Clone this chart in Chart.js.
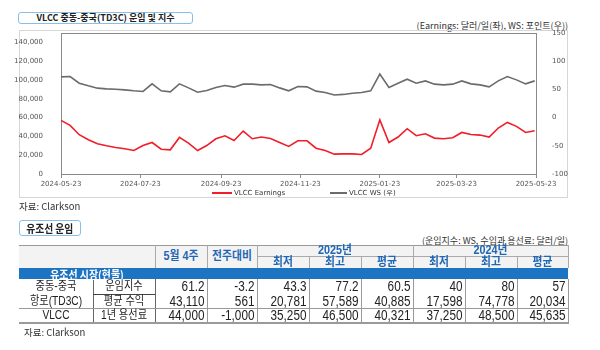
<!DOCTYPE html>
<html>
<head>
<meta charset="utf-8">
<script src="https://cdn.jsdelivr.net/npm/chart.js@4.4.1/dist/chart.umd.min.js"></script>
<style>
  html, body { margin:0; padding:0; background:#fff; }
  #root { position:relative; width:600px; height:350px; overflow:hidden; background:#fff;
          font-family:"Noto Sans CJK KR","Liberation Sans",sans-serif; color:#222; }
  .abs { position:absolute; white-space:nowrap; }
  .tbox { border:1px solid #86c0e8; border-radius:3px; background:#fff; box-sizing:border-box;
          text-align:center; font-weight:bold; color:#222; }
  #frame { left:19px; top:30px; width:549px; height:168px; border:1px solid #d6d6d6; box-sizing:border-box; }
  #c { position:absolute; left:0; top:0; }
  .unit { font-size:9px; color:#333; right:32px; }
  .src { font-size:9.5px; color:#333; }
  .lgline { position:absolute; }
  .lgtext { position:absolute; font-family:"DejaVu Sans",sans-serif; font-size:7px; line-height:8px; color:#333; white-space:nowrap; }
  .rect { position:absolute; }
  .cell { position:absolute; white-space:nowrap; overflow:visible; }
  .cell span { display:block; }
  .hdc { color:#1f66b5; font-weight:bold; font-size:12px; text-align:center;
         font-family:"Liberation Sans","Noto Sans CJK KR",sans-serif; }
  .hdc span { transform:scaleX(0.9); }
  .bandc { color:#fff; font-weight:bold; font-size:11px; text-align:center; }
  .bandc span { transform:scaleX(0.9); position:relative; top:1px; }
  .labc { font-size:12px; text-align:center; color:#222;
          font-family:"Liberation Sans","Noto Sans CJK KR",sans-serif; }
  .labc span { transform:scaleX(0.85); }
  .numc { font-size:14px; text-align:right; color:#222; font-family:"Liberation Sans",sans-serif; }
  .numc span { transform:scaleX(0.84); transform-origin:right center; padding-right:3px; }
</style>
</head>
<body>
<div id="root">
  <div class="abs tbox" style="left:18px;top:12px;width:175px;height:12px;line-height:10px;font-size:9px;">VLCC 중동-중국(TD3C) 운임 및 지수</div>
  <div class="abs unit" style="top:20px;line-height:11px;">(Earnings: 달러/일(좌), WS: 포인트(우))</div>
  <div class="abs" id="frame"></div>
  <canvas id="c" width="600" height="200"></canvas>
  <div id="legend"></div>
  <div class="abs src" style="left:19px;top:200px;line-height:12px;">자료: Clarkson</div>

  <div class="abs tbox" style="left:19px;top:220px;width:62px;height:16px;line-height:14px;font-size:11.5px;"><span style="display:inline-block;transform:scaleX(0.85);">유조선 운임</span></div>
  <div class="abs unit" style="top:235px;line-height:11px;">(운임지수: WS, 수입과 용선료: 달러/일)</div>
  <div id="tbl"></div>
  <div class="abs src" style="left:24px;top:326px;line-height:12px;">자료: Clarkson</div>
</div>

<script>
// ---------- Chart data ----------
const seriesNames = ['VLCC Earnings', 'VLCC WS (우)'];
const weekDates = [
  '2024-05-23','2024-05-30','2024-06-06','2024-06-13','2024-06-20','2024-06-27',
  '2024-07-04','2024-07-11','2024-07-18','2024-07-25','2024-08-01','2024-08-08',
  '2024-08-15','2024-08-22','2024-08-29','2024-09-05','2024-09-12','2024-09-19',
  '2024-09-26','2024-10-03','2024-10-10','2024-10-17','2024-10-24','2024-10-31',
  '2024-11-07','2024-11-14','2024-11-21','2024-11-28','2024-12-05','2024-12-12',
  '2024-12-19','2024-12-26','2025-01-02','2025-01-09','2025-01-16','2025-01-23',
  '2025-01-30','2025-02-06','2025-02-13','2025-02-20','2025-02-27','2025-03-06',
  '2025-03-13','2025-03-20','2025-03-27','2025-04-03','2025-04-10','2025-04-17',
  '2025-04-24','2025-05-01','2025-05-08','2025-05-15','2025-05-22'
];
const earnings = [
  57100, 51700, 41800, 36400, 32100, 30000, 28200, 26800, 25000, 30300,
  33500, 26400, 25700, 38900, 32800, 25000, 30300, 37500, 40700, 35700,
  45700, 37500, 39300, 37800, 33500, 29300, 35300, 35300, 27500, 25000,
  21100, 21400, 21400, 20800, 27500, 57600, 33500, 39300, 48200, 40700,
  42800, 38200, 37500, 38600, 44200, 42100, 41400, 39300, 48900, 54900,
  50700, 44200, 46000
];
const wsIndex = [
  72.2, 72.8, 61.0, 56.3, 52.2, 51.0, 50.4, 49.2, 47.5, 46.4,
  59.8, 47.5, 45.7, 59.8, 52.7, 45.1, 48.1, 53.4, 57.0, 54.0,
  59.3, 59.3, 58.0, 58.7, 52.7, 47.5, 55.2, 54.5, 46.9, 44.6,
  40.0, 41.1, 43.3, 44.6, 47.5, 77.2, 53.4, 61.0, 68.1, 61.0,
  65.1, 59.3, 58.0, 59.3, 65.1, 59.8, 58.0, 54.5, 65.1, 72.8,
  66.9, 59.8, 65.1
];
const xTickLabels = ['2024-05-23','2024-07-23','2024-09-23','2024-11-23','2025-01-23','2025-03-23','2025-05-23'];
const leftTicks = [0, 20000, 40000, 60000, 80000, 100000, 120000, 140000];
const rightTicks = [-100, -50, 0, 50, 100, 150];

// ---------- Table data ----------
const headCols = ['5월 4주', '전주대비'];
const yearHeads = ['2025년', '2024년'];
const statHeads = ['최저', '최고', '평균'];
const sectionLabel = '유조선 시장(현물)';
const rowGroup = ['중동-중국', '항로(TD3C)', 'VLCC'];
const rowItem = ['운임지수', '평균 수익', '1년 용선료'];
const latestWeek = ['61.2', '43,110', '44,000'];
const weekChange = ['-3.2', '561', '-1,000'];
const min2025 = ['43.3', '20,781', '35,250'];
const max2025 = ['77.2', '57,589', '46,500'];
const avg2025 = ['60.5', '40,885', '40,321'];
const min2024 = ['40', '17,598', '37,250'];
const max2024 = ['80', '74,778', '48,500'];
const avg2024 = ['57', '20,034', '45,635'];

// ---------- helpers ----------
const DAY = 86400000;
const t0 = Date.parse(weekDates[0]);
const dayOf = d => Math.round((Date.parse(d) - t0) / DAY);
const xMax = dayOf(xTickLabels[xTickLabels.length - 1]);

const colors = ['#f01e28', '#6b6b6b'];
const tickFont = { family: 'DejaVu Sans', size: 7 };
const tickColor = '#555';
const axisColor = '#8a8a8a';

const plotBox = {
  id: 'plotBox',
  afterDraw(chart) {
    const { ctx, chartArea: a } = chart;
    ctx.save();
    ctx.strokeStyle = axisColor;
    ctx.lineWidth = 1;
    ctx.beginPath();
    ctx.moveTo(a.left, Math.round(a.top) + 0.5);
    ctx.lineTo(a.right, Math.round(a.top) + 0.5);
    ctx.stroke();
    ctx.restore();
  }
};

new Chart(document.getElementById('c'), {
  type: 'line',
  data: {
    datasets: [
      {
        label: seriesNames[0],
        data: weekDates.map((d, i) => ({ x: dayOf(d), y: earnings[i] })),
        yAxisID: 'y',
        borderColor: colors[0],
        borderWidth: 1.6,
        pointRadius: 0,
        tension: 0,
        fill: false
      },
      {
        label: seriesNames[1],
        data: weekDates.map((d, i) => ({ x: dayOf(d), y: wsIndex[i] })),
        yAxisID: 'y1',
        borderColor: colors[1],
        borderWidth: 1.6,
        pointRadius: 0,
        tension: 0,
        fill: false
      }
    ]
  },
  options: {
    responsive: false,
    animation: false,
    devicePixelRatio: 1,
    layout: { padding: { top: 33, left: 0, right: 0, bottom: 0 } },
    plugins: { legend: { display: false }, tooltip: { enabled: false } },
    scales: {
      x: {
        type: 'linear',
        min: 0,
        max: xMax,
        afterBuildTicks: axis => { axis.ticks = xTickLabels.map(l => ({ value: dayOf(l) })); },
        afterFit: axis => { axis.height = 26; },
        ticks: {
          autoSkip: false, maxRotation: 0, minRotation: 0,
          callback: (v, i) => xTickLabels[i],
          font: tickFont, color: tickColor, padding: 2
        },
        grid: { display: true, drawOnChartArea: false, drawTicks: true, tickLength: 4, color: axisColor },
        border: { display: true, color: axisColor }
      },
      y: {
        position: 'left',
        min: 0,
        max: 150000,
        afterBuildTicks: axis => { axis.ticks = leftTicks.map(v => ({ value: v })); },
        afterFit: axis => { axis.width = 61; },
        ticks: {
          autoSkip: false,
          callback: v => v.toLocaleString('en-US'),
          font: tickFont, color: tickColor, padding: 10
        },
        grid: { display: false },
        border: { display: true, color: axisColor }
      },
      y1: {
        position: 'right',
        min: -100,
        max: 150,
        afterBuildTicks: axis => { axis.ticks = rightTicks.map(v => ({ value: v })); },
        afterFit: axis => { axis.width = 64; },
        ticks: { autoSkip: false, font: tickFont, color: tickColor, padding: 8 },
        grid: { display: false },
        border: { display: true, color: axisColor }
      }
    }
  },
  plugins: [plotBox]
});

// ---------- legend (HTML) ----------
(function () {
  const lg = document.getElementById('legend');
  const spots = [
    { lineLeft: 212, lineW: 20, textLeft: 234 },
    { lineLeft: 330, lineW: 17, textLeft: 349 }
  ];
  seriesNames.forEach((name, i) => {
    const ln = document.createElement('div');
    ln.className = 'lgline';
    ln.style.cssText = `left:${spots[i].lineLeft}px;top:192px;width:${spots[i].lineW}px;height:${i === 0 ? 2 : 1.5}px;background:${colors[i]};`;
    lg.appendChild(ln);
    const tx = document.createElement('div');
    tx.className = 'lgtext';
    tx.style.cssText = `left:${spots[i].textLeft}px;top:189px;`;
    tx.textContent = name;
    lg.appendChild(tx);
  });
})();

// ---------- table (absolutely positioned cells) ----------
(function () {
  const host = document.getElementById('tbl');
  const X = [19, 93, 155, 207, 257, 309, 361, 413, 465, 517, 568];
  const Y = { top: 245, yr: 256, band: 268, r1: 279, r2: 294, r3: 308, bot: 322 };
  let html = '';
  const rect = (x, y, w, h, c) => { html += `<div class="rect" style="left:${x}px;top:${y}px;width:${w}px;height:${h}px;background:${c}"></div>`; };
  const cell = (x0, x1, y0, y1, txt, cls) => {
    html += `<div class="cell ${cls}" style="left:${x0}px;top:${y0}px;width:${x1 - x0}px;height:${y1 - y0}px;line-height:${y1 - y0}px"><span>${txt}</span></div>`;
  };
  const L = X[0], R = X[X.length - 1];
  rect(L, Y.top, R - L, Y.band - Y.top, '#f3f3f3');
  rect(L, Y.band, R - L, Y.r1 - Y.band, '#1c74c2');
  rect(L, Y.top, R - L, 1, '#999');
  [2, 3, 4, 7, 10].forEach(i => rect(X[i], Y.top, 1, Y.band - Y.top, '#aaa'));
  [5, 6, 8, 9].forEach(i => rect(X[i], Y.yr, 1, Y.band - Y.yr, '#aaa'));
  rect(X[4], Y.yr, R - X[4], 1, '#aaa');
  for (let i = 1; i < X.length; i++) rect(X[i], Y.r1, 1, Y.bot - Y.r1, i <= 2 ? '#666' : '#999');
  rect(X[1], Y.r2, X[2] - X[1], 1, '#444');
  rect(L, Y.r3, R - L, 1, '#999');
  rect(L, Y.bot, R - L + 1, 2, '#9a9a9a');

  headCols.forEach((h, i) => cell(X[2 + i], X[3 + i], Y.top, Y.band, h, 'hdc'));
  yearHeads.forEach((y, k) => {
    cell(X[4 + 3 * k], X[7 + 3 * k], Y.top, Y.yr, y, 'hdc');
    statHeads.forEach((s, j) => cell(X[4 + 3 * k + j], X[5 + 3 * k + j], Y.yr, Y.band, s, 'hdc'));
  });
  cell(X[0], X[2], Y.band, Y.r1, sectionLabel, 'bandc');

  const rowsY = [Y.r1, Y.r2, Y.r3, Y.bot];
  for (let r = 0; r < rowGroup.length; r++) {
    const y0 = rowsY[r], y1 = rowsY[r + 1];
    cell(X[0], X[1], y0, y1, rowGroup[r], 'labc');
    cell(X[1], X[2], y0, y1, rowItem[r], 'labc');
    const vals = [latestWeek[r], weekChange[r], min2025[r], max2025[r], avg2025[r], min2024[r], max2024[r], avg2024[r]];
    vals.forEach((v, j) => cell(X[2 + j], X[3 + j], y0, y1, v, 'numc'));
  }
  host.innerHTML = html;
})();
</script>
</body>
</html>
